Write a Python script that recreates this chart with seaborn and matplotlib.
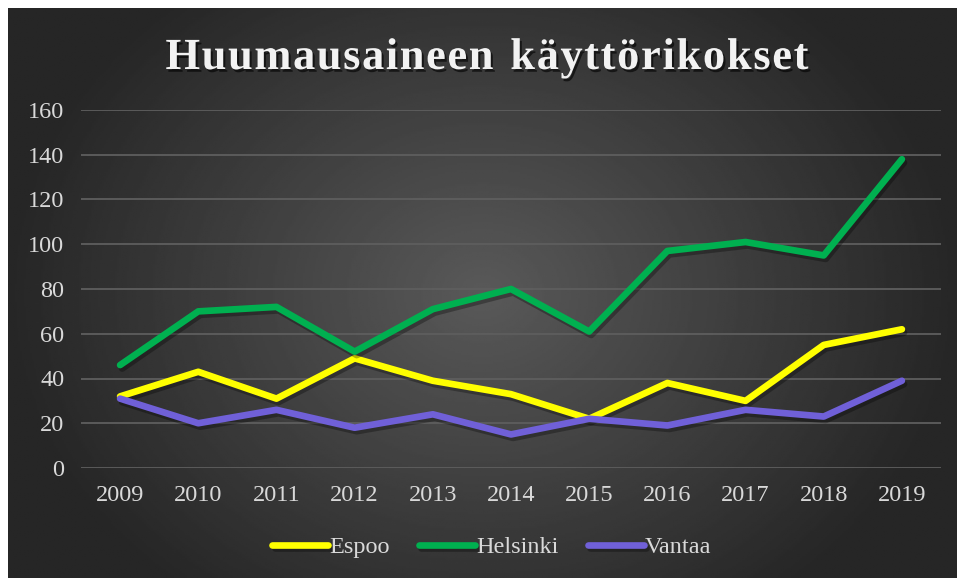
import numpy as np
import pandas as pd
import matplotlib
matplotlib.use("Agg")
import matplotlib.pyplot as plt
import matplotlib.patheffects as pe
import seaborn as sns

years = [2009, 2010, 2011, 2012, 2013, 2014, 2015, 2016, 2017, 2018, 2019]
espoo = [32, 43, 31, 49, 39, 33, 22, 38, 30, 55, 62]
helsinki = [46, 70, 72, 52, 71, 80, 61, 97, 101, 95, 138]
vantaa = [31, 20, 26, 18, 24, 15, 22, 19, 26, 23, 39]
cities = ["Espoo", "Helsinki", "Vantaa"]
colors = ["#FFFF00", "#00B050", "#7060D8"]
title = "Huumausaineen käyttörikokset"

df = pd.DataFrame({
    "vuosi": years * 3,
    "kpl": espoo + helsinki + vantaa,
    "kaupunki": [c for c in cities for _ in years],
})

sns.set_style("dark")
plt.rcParams["font.family"] = ["Liberation Serif", "DejaVu Serif"]
W, H = 957, 578
fig = plt.figure(figsize=(W / 100, H / 100), dpi=100)
fig.patch.set_facecolor("white")

# dark radial background
bg = fig.add_axes([8 / W, 0, (W - 8) / W, (H - 8) / H])
yy, xx = np.mgrid[-1:1:300j, -1:1:500j]
r = np.sqrt((xx / 1.0) ** 2 + (yy / 1.35) ** 2)
shade = np.clip(0.35 - 0.20 * r, 0.15, 0.35)
bg.imshow(shade, cmap="gray", vmin=0, vmax=1, aspect="auto", extent=[0, 1, 0, 1])
bg.set_axis_off()

ax = fig.add_axes([81 / W, (H - 468) / H, (941 - 81) / W, (468 - 110) / H])
ax.set_facecolor("none")

sns.lineplot(data=df, x="vuosi", y="kpl", hue="kaupunki", palette=colors,
             linewidth=4.8, ax=ax, legend=True)
for ln in ax.lines:
    ln.set_solid_capstyle("round")
    ln.set_solid_joinstyle("round")
    ln.set_path_effects([pe.SimpleLineShadow(offset=(1.5, -2.5), shadow_color="black", alpha=0.3),
                         pe.Normal()])
    ln.set_clip_on(False)

ax.set_xlim(2008.5, 2019.5)
ax.set_ylim(0, 160)
ax.set_yticks(range(0, 161, 20))
ax.set_xticks(years)
ax.grid(axis="y", color="#5e5e5e", linewidth=1.3)
ax.grid(axis="x", visible=False)
for s in ax.spines.values():
    s.set_visible(False)
ax.tick_params(colors="#d9d9d9", labelsize=17.5, length=0)
ax.tick_params(axis="y", pad=12)
ax.tick_params(axis="x", pad=12)
ax.set_xlabel("")
ax.set_ylabel("")

handles, labels = ax.get_legend_handles_labels()
for h in handles:
    h.set_linewidth(4.8)
    h.set_solid_capstyle("round")
leg = ax.legend(handles, labels, loc="center", bbox_to_anchor=(492 / W, 1 - 547 / H),
                bbox_transform=fig.transFigure, ncol=3, frameon=False,
                fontsize=17.5, handlelength=2.3, handletextpad=0.05, columnspacing=1.2,
                labelcolor="#d9d9d9")

# title with letter spacing: place characters one by one
renderer = fig.canvas.get_renderer()
tstyle = dict(fontsize=32, fontweight="bold", color="#f2f2f2", va="baseline",
              path_effects=[pe.withSimplePatchShadow(offset=(1.5, -2), shadow_rgbFace="black", alpha=0.6)])
widths = []
for ch in title:
    t = fig.text(0, 0, ch if ch != " " else "n", **tstyle)
    w = t.get_window_extent(renderer).width
    widths.append(w * 0.55 if ch == " " else w)
    t.remove()
target = 643
gap = (target - sum(widths)) / (len(title) - 1)
x = 487 - target / 2
for ch, w in zip(title, widths):
    if ch != " ":
        fig.text(x / W, 1 - 69 / H, ch, ha="left", **tstyle)
    x += w + gap

fig.savefig("out.png", dpi=100)
